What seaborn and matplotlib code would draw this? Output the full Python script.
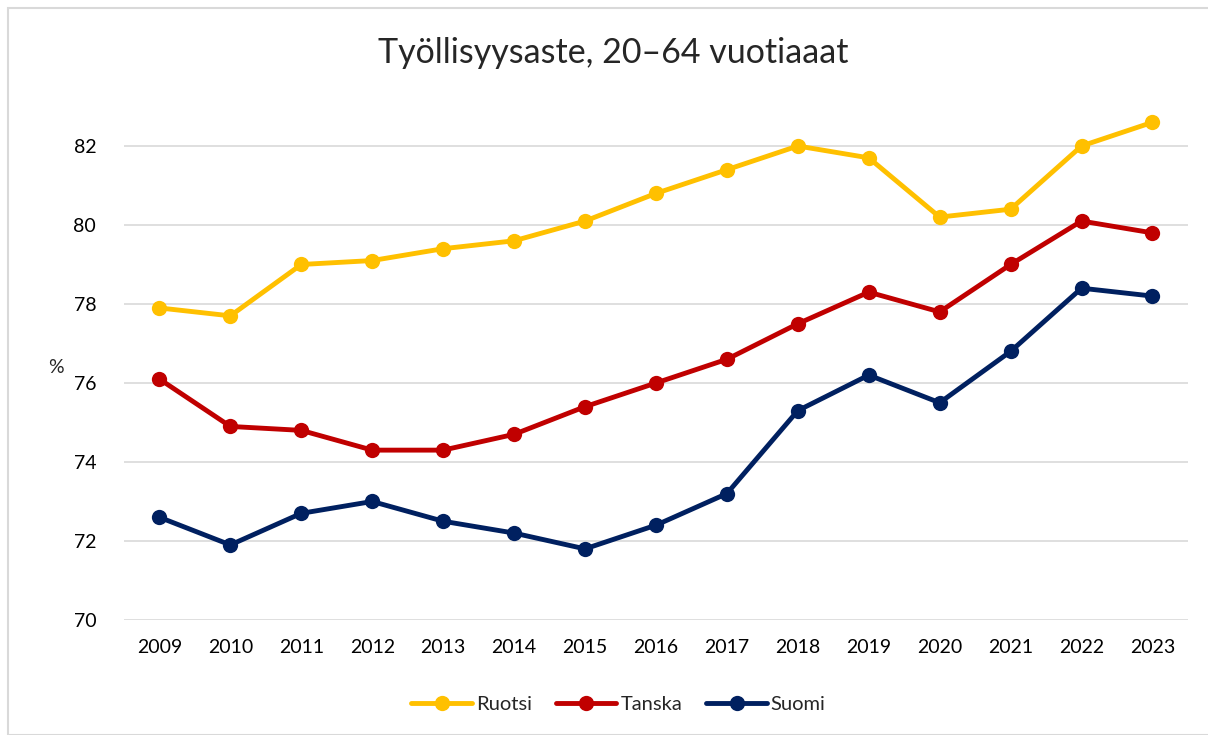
import matplotlib
matplotlib.use("Agg")
import matplotlib.pyplot as plt
from matplotlib.patches import Rectangle
import seaborn as sns
import pandas as pd

# data
years = list(range(2009, 2024))
ruotsi = [77.9, 77.7, 79.0, 79.1, 79.4, 79.6, 80.1, 80.8, 81.4, 82.0, 81.7, 80.2, 80.4, 82.0, 82.6]
tanska = [76.1, 74.9, 74.8, 74.3, 74.3, 74.7, 75.4, 76.0, 76.6, 77.5, 78.3, 77.8, 79.0, 80.1, 79.8]
suomi = [72.6, 71.9, 72.7, 73.0, 72.5, 72.2, 71.8, 72.4, 73.2, 75.3, 76.2, 75.5, 76.8, 78.4, 78.2]
series_names = ["Ruotsi", "Tanska", "Suomi"]
colors = ["#FFC000", "#C00000", "#002060"]

df = pd.concat([
    pd.DataFrame({"vuosi": years, "arvo": vals, "maa": name})
    for name, vals in zip(series_names, [ruotsi, tanska, suomi])
])

sns.set_theme(style="white")
plt.rcParams["font.family"] = ["Lato", "DejaVu Sans"]

fig = plt.figure(figsize=(12.08, 7.35), dpi=100)
ax = fig.add_axes([0.1026, 0.1565, 0.8808, 0.6986])

sns.lineplot(data=df, x="vuosi", y="arvo", hue="maa", hue_order=series_names,
             palette=colors, marker="o", markersize=11, markeredgewidth=0,
             linewidth=3.5, ax=ax)

ax.set_xlim(2008.5, 2023.5)
ax.set_ylim(70, 83)
ax.set_xticks(years)
ax.set_xticklabels([str(y) for y in years])
ax.set_yticks(range(70, 83, 2))
ax.yaxis.grid(True, color="#d9d9d9", linewidth=1.2)
ax.set_axisbelow(True)
for s in ax.spines.values():
    s.set_visible(False)
ax.tick_params(axis="both", labelsize=14, length=0, colors="#000000")
ax.tick_params(axis="y", pad=20)
ax.tick_params(axis="x", pad=14)
ax.set_xlabel("")
ax.set_ylabel("")

fig.text(0.046, 0.5, "%", fontsize=14, ha="center", va="center")
fig.suptitle("Työllisyysaste, 20–64 vuotiaaat", fontsize=24.5, x=0.508, y=0.928, va="center")

handles, labels = ax.get_legend_handles_labels()
ax.legend(handles, labels, loc="center", bbox_to_anchor=(0.512, 0.041),
          bbox_transform=fig.transFigure, ncol=3, frameon=False, fontsize=14.5,
          handlelength=3.0, columnspacing=1.2, handletextpad=0.2)

fig.patches.append(Rectangle((8 / 1208, 0), 1.2, 1 - 8 / 735, transform=fig.transFigure,
                             fill=False, edgecolor="#d9d9d9", linewidth=1.5))

fig.savefig("out.png", dpi=100)
